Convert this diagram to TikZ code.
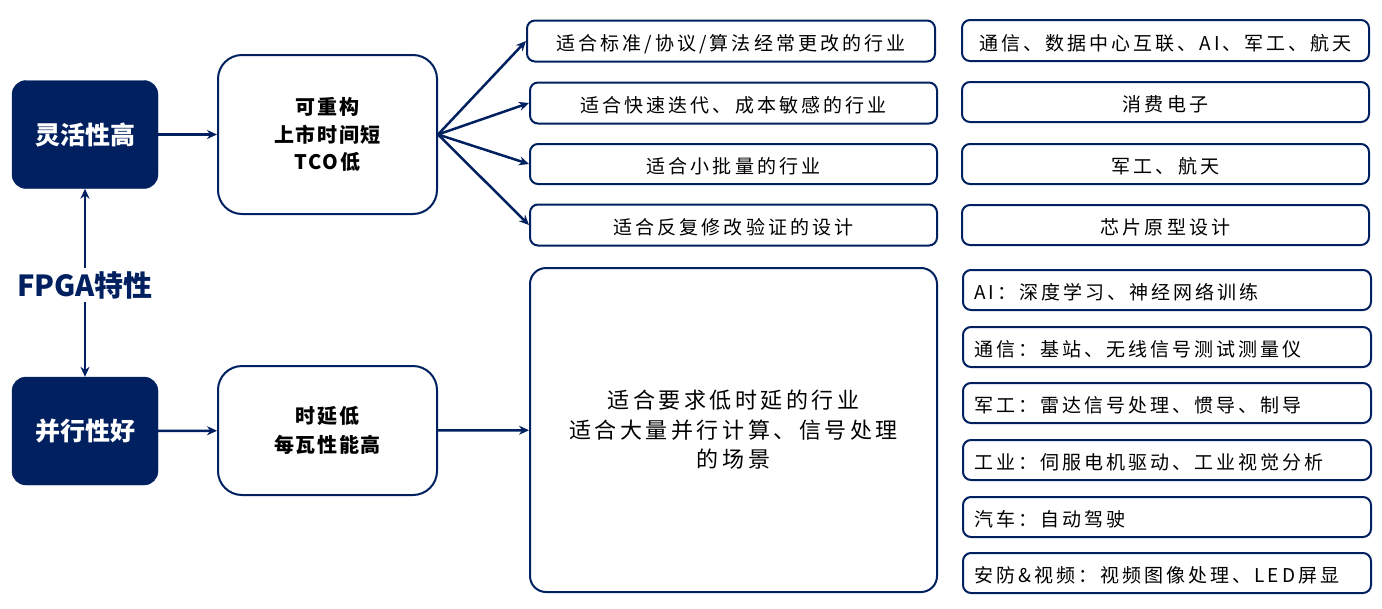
\documentclass[tikz,border=0pt]{standalone}
\usepackage{fontspec}
\setmainfont{Noto Sans CJK SC}
\newfontfamily\spacedfont[LetterSpace=16]{Noto Sans CJK SC}
\newfontfamily\widefont[LetterSpace=8]{Noto Sans CJK SC}
\usepackage{tikz}
\usetikzlibrary{arrows.meta, positioning}
\definecolor{fpganavy}{RGB}{0,32,96}

\begin{document}
\begin{tikzpicture}[x=1pt, y=-1pt,
    feature/.style={rectangle, rounded corners=14pt, fill=fpganavy, draw=fpganavy, text=white, font=\fontsize{25}{28}\selectfont\bfseries, minimum width=146pt, minimum height=108pt},
    merit/.style={rectangle, rounded corners=24pt, draw=fpganavy, line width=2pt, fill=white, align=center, font=\widefont\fontsize{20}{27.5}\selectfont\bfseries, minimum width=219pt},
    usecase/.style={rectangle, rounded corners=8pt, draw=fpganavy, line width=2pt, align=center, text height=19pt, text depth=0pt, font=\spacedfont\fontsize{19}{22}\selectfont, minimum width=407pt, minimum height=41pt},
    bigbox/.style={rectangle, rounded corners=16pt, draw=fpganavy, line width=2pt, align=center, font=\spacedfont\fontsize{22}{29.5}\selectfont, minimum width=407pt, minimum height=324pt},
    field/.style={rectangle, rounded corners=8pt, draw=fpganavy, line width=2pt, align=left, text width=386pt, inner xsep=11pt, text height=19pt, text depth=0pt, font=\spacedfont\fontsize{19}{22}\selectfont, minimum height=40pt},
    arrow/.style={line width=2.5pt, draw=fpganavy, -{Stealth[length=10pt, width=9pt]}}]

    \useasboundingbox (0,0) rectangle (1382,608);

    % left column
    \node[feature] (flex) at (85,134.5) {灵活性高};
    \node[feature] (para) at (85,431) {并行性好};
    \node[text=fpganavy, font=\fontsize{29}{30}\selectfont\bfseries] (fpga) at (85,285) {FPGA特性};

    \draw[arrow] (fpga) -- (flex);
    \draw[arrow] (fpga) -- (para);

    % merits
    \node[merit, minimum height=159pt] (reconf) at (327.5,134.5) {可重构\\上市时间短\\TCO低};
    \node[merit, minimum height=129pt, font=\widefont\fontsize{20}{29}\selectfont\bfseries] (latency) at (327.5,430.5) {时延低\\每瓦性能高};

    \draw[arrow] (flex) -- (reconf);
    \draw[arrow] (para) -- (latency);

    % use cases, upper part
    \node[usecase, minimum width=408pt] (case1) at (731,41) {适合标准/协议/算法经常更改的行业};
    \node[usecase] (case2) at (733.5,103) {适合快速迭代、成本敏感的行业};
    \node[usecase, minimum height=40pt] (case3) at (733.5,164) {适合小批量的行业};
    \node[usecase] (case4) at (733.5,225) {适合反复修改验证的设计};

    \foreach \c in {case1,case2,case3,case4}
        \draw[arrow] (reconf.east) -- (\c.west);

    % use cases, lower part
    \node[bigbox] (bigcase) at (733.5,430) {适合要求低时延的行业\\适合大量并行计算、信号处理\\的场景};
    \draw[arrow] (latency) -- (bigcase);

    % industries, upper part
    \node[usecase, minimum height=41pt] (ind1) at (1165.5,40.5) {通信、数据中心互联、AI、军工、航天};
    \node[usecase, minimum height=40pt] (ind2) at (1165.5,102) {消费电子};
    \node[usecase, minimum height=40pt] (ind3) at (1165.5,164) {军工、航天};
    \node[usecase, minimum height=40pt] (ind4) at (1165.5,225) {芯片原型设计};

    % industries, lower part
    \node[field] (app1) at (1167,290) {AI：深度学习、神经网络训练};
    \node[field] (app2) at (1167,347) {通信：基站、无线信号测试测量仪};
    \node[field] (app3) at (1167,403) {军工：雷达信号处理、惯导、制导};
    \node[field] (app4) at (1167,460) {工业：伺服电机驱动、工业视觉分析};
    \node[field] (app5) at (1167,517) {汽车：自动驾驶};
    \node[field] (app6) at (1167,573) {安防\&视频：视频图像处理、LED屏显};
\end{tikzpicture}
\end{document}
